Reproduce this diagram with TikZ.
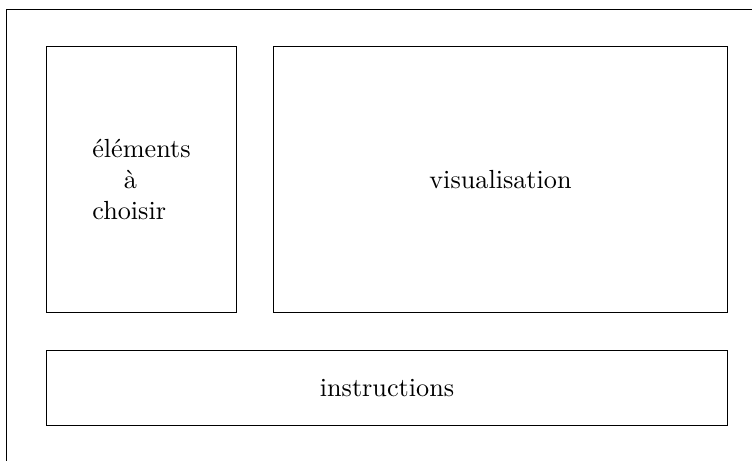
\documentclass[tikz,border=0pt]{standalone}
\usepackage{tikz}

\tikzset{panel/.style={draw=black,inner sep=0pt,outer sep=0pt}}

\begin{document}
\begin{tikzpicture}[x=0.381700pt,y=-0.381700pt]
\useasboundingbox (0.000000,0.000000) rectangle (752.000000,460.000000);
\clip (0.000000,0.000000) rectangle (752.000000,460.000000);
% Drawing frame
\draw[color=black] (6.500000,9.500000) rectangle (780.000000,490.000000);
% Done with frame; drawing panels
% Panel 1: choices
\node[panel,minimum width=72.520000pt,minimum height=101.530000pt] (choix) at (141.500000,179.500000) {};
\node[align=left,inner sep=0pt] (choixtxt) at (choix.center) {éléments\\\hspace{1.2em}à\\choisir};
% Panel 2: view
\node[panel,minimum width=173.290000pt,minimum height=101.530000pt] (visu) at (500.500000,179.500000) {visualisation};
% Panel 3: help
\node[panel,minimum width=259.940000pt,minimum height=28.630000pt] (instr) at (387.000000,388.000000) {instructions};
% Done with panels
\end{tikzpicture}
\end{document}
